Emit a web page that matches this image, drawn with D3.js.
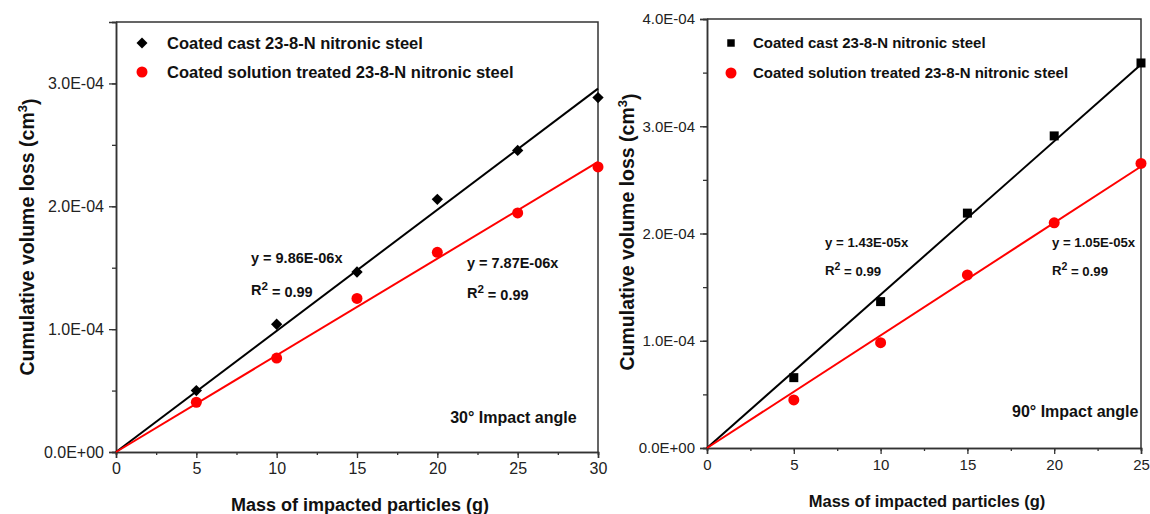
<!DOCTYPE html>
<html>
<head>
<meta charset="utf-8">
<script src="https://cdn.jsdelivr.net/npm/d3@7"></script>
<style>
  body { margin: 0; background: #fff; }
  svg { font-family: "Liberation Sans", Arial, sans-serif; }
</style>
</head>
<body>
<svg id="chart" width="1150" height="514"></svg>
<script>
// Series names shown in both legends.
var seriesNames = ["Coated cast 23-8-N nitronic steel",
                   "Coated solution treated 23-8-N nitronic steel"];

// 30 degree impact angle (left panel).
var massLeft = [5, 10, 15, 20, 25, 30];
var castLeft = [0.50e-4, 1.04e-4, 1.465e-4, 2.057e-4, 2.455e-4, 2.885e-4];
var solLeft  = [0.405e-4, 0.765e-4, 1.25e-4, 1.625e-4, 1.946e-4, 2.32e-4];
var slopesLeft = [9.86e-6, 7.87e-6];
var xTicksLeft = [0, 5, 10, 15, 20, 25, 30];
var yTicksLeft = [0, 1e-4, 2e-4, 3e-4];
var yTickLabelsLeft = ["0.0E+00", "1.0E-04", "2.0E-04", "3.0E-04"];

// 90 degree impact angle (right panel).
var massRight = [5, 10, 15, 20, 25];
var castRight = [0.656e-4, 1.365e-4, 2.19e-4, 2.91e-4, 3.59e-4];
var solRight  = [0.448e-4, 0.982e-4, 1.614e-4, 2.10e-4, 2.653e-4];
var slopesRight = [1.43e-5, 1.05e-5];
var xTicksRight = [0, 5, 10, 15, 20, 25];
var yTicksRight = [0, 1e-4, 2e-4, 3e-4, 4e-4];
var yTickLabelsRight = ["0.0E+00", "1.0E-04", "2.0E-04", "3.0E-04", "4.0E-04"];

var fitLabels = ["y = 9.86E-06x", "y = 7.87E-06x", "y = 1.43E-05x", "y = 1.05E-05x"];
var angleLabels = ["30\u00b0 Impact angle", "90\u00b0 Impact angle"];

var svg = d3.select("#chart");

// Square symbol, optionally turned 45 degrees to make the Origin-style diamond.
function marker(sel, cfg, size){
    sel.append("path")
        .attr("d", d3.symbol().type(d3.symbolSquare).size(size)())
        .attr("transform", cfg.diamond ? "rotate(45)" : null)
        .attr("fill", "#000");
}

function drawPanel(cfg){
    var g = svg.append("g");

    var x = d3.scaleLinear().domain(cfg.xDomain).range([cfg.left, cfg.right]);
    var y = d3.scaleLinear().domain(cfg.yDomain).range([cfg.bottom, cfg.top]);

    // Frame: top and right lines without ticks.
    g.append("path")
        .attr("d", "M" + cfg.left + "," + cfg.top + "H" + cfg.right + "V" + cfg.bottom)
        .attr("fill", "none")
        .attr("stroke", "#333")
        .attr("stroke-width", 1.5);

    // Bottom axis with minor ticks.
    var xMinor = d3.range(cfg.xDomain[0], cfg.xDomain[1] + 0.01, 2.5);
    var xAxisMinor = g.append("g")
        .attr("transform", "translate(0," + cfg.bottom + ")")
        .call(d3.axisBottom(x).tickValues(xMinor).tickSize(3).tickFormat(""));
    var xAxis = g.append("g")
        .attr("transform", "translate(0," + cfg.bottom + ")")
        .call(d3.axisBottom(x).tickValues(cfg.xTicks).tickSize(6).tickPadding(5)
              .tickFormat(d3.format("d")));

    // Left axis with minor ticks.
    var yMinor = d3.range(0, cfg.yDomain[1] + 1e-9, 0.5e-4);
    var yAxisMinor = g.append("g")
        .attr("transform", "translate(" + cfg.left + ",0)")
        .call(d3.axisLeft(y).tickValues(yMinor).tickSize(4).tickFormat(""));
    var yAxis = g.append("g")
        .attr("transform", "translate(" + cfg.left + ",0)")
        .call(d3.axisLeft(y).tickValues(cfg.yTicks).tickSize(7).tickPadding(5)
              .tickFormat(function(d, i){ return cfg.yTickLabels[i]; }));

    [xAxisMinor, xAxis, yAxisMinor, yAxis].forEach(function(a){
        a.select(".domain").attr("stroke", "#333").attr("stroke-width", 1.5);
        a.selectAll(".tick line").attr("stroke", "#333").attr("stroke-width", 1.3);
        a.selectAll("text")
            .attr("fill", "#222")
            .style("font-family", "'Liberation Sans', Arial, sans-serif")
            .style("font-size", cfg.tickFont + "px");
    });

    // Axis titles.
    g.append("text")
        .attr("x", (cfg.left + cfg.right) / 2 + 3)
        .attr("y", cfg.xTitleY)
        .attr("text-anchor", "middle")
        .style("font-size", cfg.xTitleFont + "px")
        .style("font-weight", "bold")
        .attr("fill", "#111")
        .text("Mass of impacted particles (g)");

    var yt = g.append("text")
        .attr("transform", "translate(" + cfg.yTitleX + "," + cfg.yTitleY + ") rotate(-90)")
        .attr("text-anchor", "middle")
        .attr("dy", "0.35em")
        .style("font-size", "19.5px")
        .style("font-weight", "bold")
        .attr("fill", "#111");
    yt.append("tspan").text("Cumulative volume loss (cm");
    yt.append("tspan").attr("dy", "-0.5em").style("font-size", "13px").text("3");
    yt.append("tspan").attr("dy", "0.5em").text(")");

    // Fit lines through the origin.
    var colors = ["#000", "#ff0000"];
    cfg.slopes.forEach(function(s, i){
        g.append("line")
            .attr("x1", x(0)).attr("y1", y(0))
            .attr("x2", x(cfg.xDomain[1])).attr("y2", y(s * cfg.xDomain[1]))
            .attr("stroke", colors[i])
            .attr("stroke-width", 2);
    });

    // Markers.
    g.selectAll(".cast")
        .data(cfg.mass)
        .enter()
        .append("g")
        .attr("class", "cast")
        .attr("transform", function(d, i){ return "translate(" + x(d) + "," + y(cfg.cast[i]) + ")"; })
        .each(function(){ marker(d3.select(this), cfg, cfg.blackSize); });

    g.selectAll(".sol")
        .data(cfg.mass)
        .enter()
        .append("circle")
        .attr("class", "sol")
        .attr("cx", function(d){ return x(d); })
        .attr("cy", function(d, i){ return y(cfg.sol[i]); })
        .attr("r", 5.5)
        .attr("fill", "#ff0000");

    // Legend.
    seriesNames.forEach(function(name, i){
        var ly = cfg.top + cfg.legendDy[i];
        if (i === 0) {
            var lm = g.append("g")
                .attr("transform", "translate(" + (cfg.left + cfg.legendMx) + "," + ly + ")");
            marker(lm, cfg, cfg.legendSize);
        } else {
            g.append("circle")
                .attr("cx", cfg.left + cfg.legendMx)
                .attr("cy", ly)
                .attr("r", 5.5)
                .attr("fill", "#ff0000");
        }
        g.append("text")
            .attr("x", cfg.left + cfg.legendTx)
            .attr("y", ly)
            .attr("dy", "0.35em")
            .style("font-size", cfg.legendFont + "px")
            .style("font-weight", "bold")
            .attr("fill", "#111")
            .text(name);
    });

    // Fit equations and R^2.
    cfg.notes.forEach(function(n, i){
        g.append("text")
            .attr("x", x(n.x)).attr("y", y(n.y))
            .attr("dy", "0.35em")
            .style("font-size", cfg.noteFont + "px")
            .style("font-weight", "bold")
            .attr("fill", "#111")
            .text(cfg.fitLabels[i]);
        var r = g.append("text")
            .attr("x", x(n.x)).attr("y", y(n.y2))
            .attr("dy", "0.35em")
            .style("font-size", cfg.noteFont + "px")
            .style("font-weight", "bold")
            .attr("fill", "#111");
        r.append("tspan").text("R");
        r.append("tspan").attr("dy", "-0.45em").style("font-size", (cfg.noteFont * 0.8) + "px").text("2");
        r.append("tspan").attr("dy", "0.45em").text(" = 0.99");
    });

    g.append("text")
        .attr("x", x(cfg.angle.x)).attr("y", y(cfg.angle.y))
        .attr("dy", "0.35em")
        .style("font-size", "16px")
        .style("font-weight", "bold")
        .attr("fill", "#111")
        .text(cfg.angleLabel);
}

drawPanel({
    left: 116, right: 598, top: 22, bottom: 452,
    xDomain: [0, 30], yDomain: [0, 3.5e-4],
    xTicks: xTicksLeft, yTicks: yTicksLeft, yTickLabels: yTickLabelsLeft,
    mass: massLeft, cast: castLeft, sol: solLeft, slopes: slopesLeft,
    diamond: true, blackSize: 64, legendSize: 60,
    tickFont: 16, xTitleFont: 18, xTitleY: 511,
    yTitleX: 27, yTitleY: 237,
    legendDy: [21, 50], legendMx: 26, legendTx: 51, legendFont: 16.5,
    noteFont: 14.5,
    fitLabels: fitLabels.slice(0, 2),
    notes: [{x: 8.4, y: 1.577e-4, y2: 1.317e-4}, {x: 21.84, y: 1.537e-4, y2: 1.293e-4}],
    angle: {x: 20.8, y: 0.285e-4}, angleLabel: angleLabels[0]
});

drawPanel({
    left: 707, right: 1141, top: 19, bottom: 448,
    xDomain: [0, 25], yDomain: [0, 4e-4],
    xTicks: xTicksRight, yTicks: yTicksRight, yTickLabels: yTickLabelsRight,
    mass: massRight, cast: castRight, sol: solRight, slopes: slopesRight,
    diamond: false, blackSize: 81, legendSize: 56,
    tickFont: 15, xTitleFont: 16.5, xTitleY: 507,
    yTitleX: 627, yTitleY: 232,
    legendDy: [24, 54], legendMx: 24, legendTx: 46, legendFont: 15,
    noteFont: 13.2,
    fitLabels: fitLabels.slice(2, 4),
    notes: [{x: 6.8, y: 1.915e-4, y2: 1.66e-4}, {x: 19.87, y: 1.915e-4, y2: 1.66e-4}],
    angle: {x: 17.57, y: 0.339e-4}, angleLabel: angleLabels[1]
});
</script>
</body>
</html>
